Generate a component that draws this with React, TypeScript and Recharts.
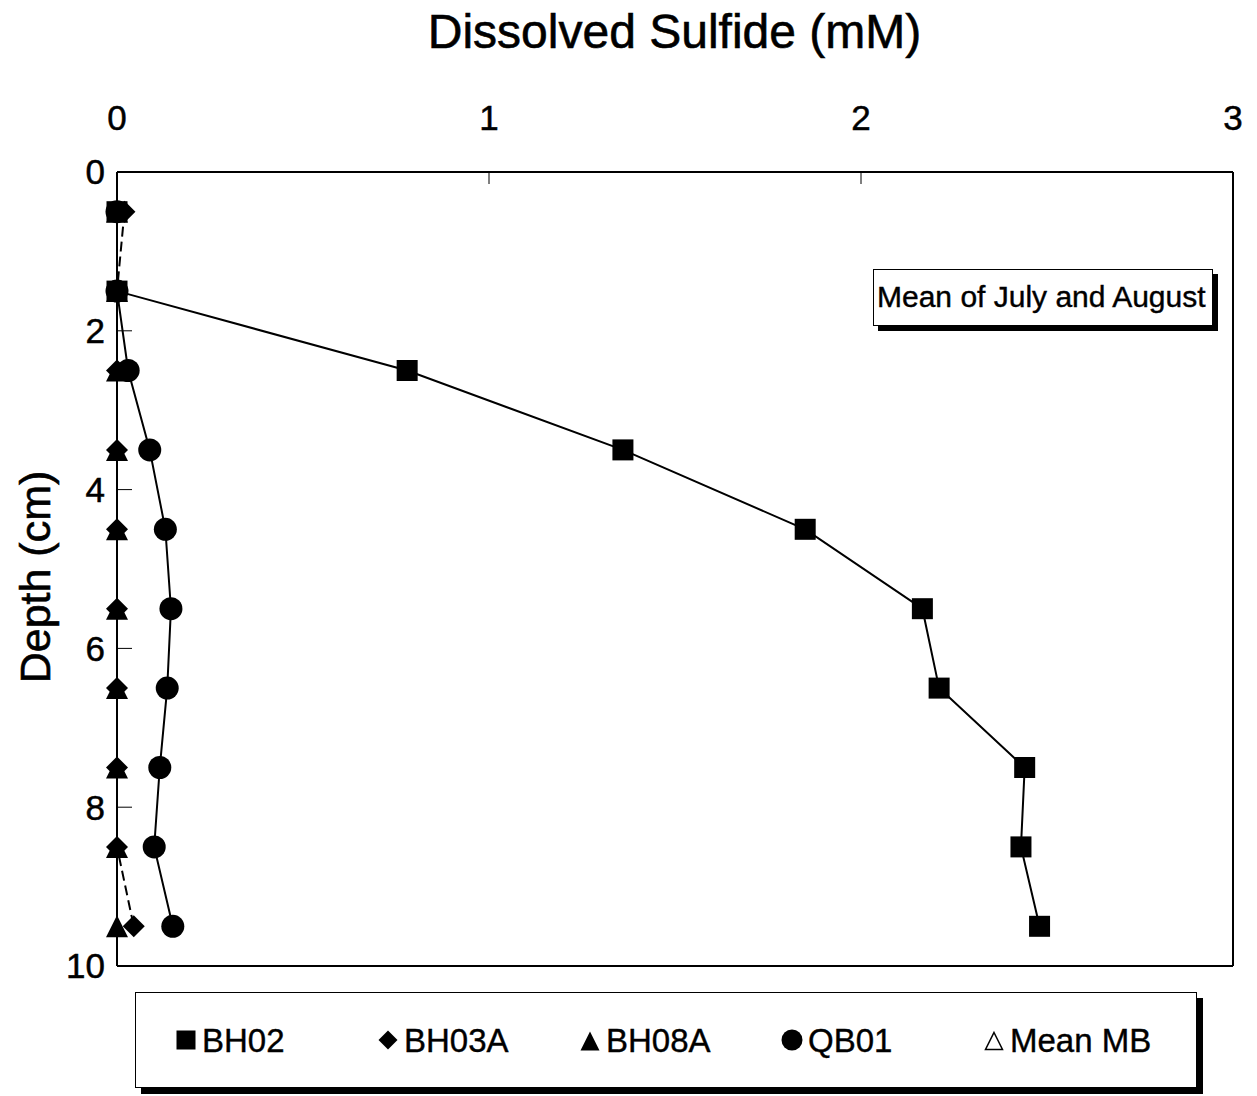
import { ScatterChart, Scatter, XAxis, YAxis, ReferenceLine } from "recharts"

const depths = [0.5, 1.5, 2.5, 3.5, 4.5, 5.5, 6.5, 7.5, 8.5, 9.5]
const bh02 = [0, 0, 0.78, 1.36, 1.85, 2.165, 2.21, 2.44, 2.43, 2.48]
const bh03a = [0.02, 0, 0, 0, 0, 0, 0, 0, 0, 0.045]
const bh08a = [0, 0, 0, 0, 0, 0, 0, 0, 0, 0]
const qb01 = [0, 0, 0.03, 0.088, 0.13, 0.145, 0.135, 0.115, 0.1, 0.15]
const meanMB: number[] = []

const xTicks = [0, 1, 2, 3]
const yTicks = [0, 2, 4, 6, 8, 10]

const toPoints = (vals: number[]) => vals.map((v, i) => ({ x: v, y: depths[i] }))

const FONT = '"Liberation Sans", Arial, Helvetica, sans-serif'

// marker shapes
const Square = ({ cx, cy, s = 21 }: any) => <rect x={cx - s / 2} y={cy - s / 2} width={s} height={s} fill="#000" />
const Diamond = ({ cx, cy, s = 22 }: any) => (
  <polygon points={`${cx},${cy - s / 2} ${cx + s / 2},${cy} ${cx},${cy + s / 2} ${cx - s / 2},${cy}`} fill="#000" />
)
const Triangle = ({ cx, cy, s = 22, open = false }: any) => (
  <polygon
    points={`${cx},${cy - s / 2} ${cx + s / 2},${cy + s / 2} ${cx - s / 2},${cy + s / 2}`}
    fill={open ? "#fff" : "#000"}
    stroke="#000"
    strokeWidth={open ? 1.5 : 0}
  />
)
const Circle = ({ cx, cy, s = 23 }: any) => <circle cx={cx} cy={cy} r={s / 2} fill="#000" />

const legendItems = [
  { name: "BH02", icon: (c: number) => <Square cx={c} cy={12} s={19} /> },
  { name: "BH03A", icon: (c: number) => <Diamond cx={c} cy={12} s={19} /> },
  { name: "BH08A", icon: (c: number) => <Triangle cx={c} cy={13} s={19} /> },
  { name: "QB01", icon: (c: number) => <Circle cx={c} cy={12} s={21} /> },
  { name: "Mean MB", icon: (c: number) => <Triangle cx={c} cy={13} s={17} open /> },
]

const tickStyle = { fill: "#000", fontSize: 35, fontFamily: FONT, stroke: "#000", strokeWidth: 0.5 }

export default function App() {
  return (
    <div style={{ position: "absolute", left: 0, top: 0, width: 1257, height: 1096, background: "#fff", fontFamily: FONT }}>
      <div
        style={{
          position: "absolute",
          left: 0,
          width: 1257,
          top: 4,
          textAlign: "center",
          fontSize: 48,
          color: "#000",
          paddingLeft: 92,
          boxSizing: "border-box",
          WebkitTextStroke: "0.6px #000",
        }}
      >
        Dissolved Sulfide (mM)
      </div>
      <div
        style={{
          position: "absolute",
          left: 35,
          top: 577,
          transform: "translate(-50%, -50%) rotate(-90deg)",
          fontSize: 43,
          whiteSpace: "nowrap",
          color: "#000",
          WebkitTextStroke: "0.6px #000",
        }}
      >
        Depth (cm)
      </div>

      <ScatterChart width={1257} height={1096} margin={{ top: 112, left: 57, right: 24, bottom: 130 }}>
        <XAxis
          type="number"
          dataKey="x"
          orientation="top"
          domain={[0, 3]}
          ticks={xTicks}
          height={60}
          tickSize={-12}
          tickMargin={54}
          axisLine={{ stroke: "#000", strokeWidth: 2 }}
          tickLine={{ stroke: "#000", strokeWidth: 1 }}
          tick={tickStyle}
        />
        <YAxis
          type="number"
          dataKey="y"
          reversed
          domain={[0, 10]}
          ticks={yTicks}
          width={60}
          tickSize={-15}
          tickMargin={27}
          axisLine={{ stroke: "#000", strokeWidth: 2 }}
          tickLine={{ stroke: "#000", strokeWidth: 1 }}
          tick={tickStyle}
        />
        <ReferenceLine x={3} stroke="#000" strokeWidth={2} />
        <ReferenceLine y={10} stroke="#000" strokeWidth={2} />

        <Scatter name="BH03A" data={toPoints(bh03a)} fill="#000" line={{ strokeWidth: 2, strokeDasharray: "10 5" }} shape={(p: any) => <Diamond cx={p.cx} cy={p.cy} />} isAnimationActive={false} />
        <Scatter name="BH08A" data={toPoints(bh08a)} fill="#000" line={{ strokeWidth: 2 }} shape={(p: any) => <Triangle cx={p.cx} cy={p.cy} />} isAnimationActive={false} />
        <Scatter name="QB01" data={toPoints(qb01)} fill="#000" line={{ strokeWidth: 2 }} shape={(p: any) => <Circle cx={p.cx} cy={p.cy} />} isAnimationActive={false} />
        <Scatter name="Mean MB" data={toPoints(meanMB)} fill="#000" line={{ strokeWidth: 1 }} shape={(p: any) => <Triangle cx={p.cx} cy={p.cy} open />} isAnimationActive={false} />
        <Scatter name="BH02" data={toPoints(bh02)} fill="#000" line={{ strokeWidth: 2 }} shape={(p: any) => <Square cx={p.cx} cy={p.cy} />} isAnimationActive={false} />
      </ScatterChart>

      <div
        style={{
          position: "absolute",
          left: 873,
          top: 269,
          width: 340,
          height: 57,
          border: "1.5px solid #000",
          boxShadow: "5px 5px 0 #000",
          background: "#fff",
          boxSizing: "border-box",
          fontSize: 30,
          lineHeight: "54px",
          paddingLeft: 3,
          whiteSpace: "nowrap",
          color: "#000",
          WebkitTextStroke: "0.4px #000",
        }}
      >
        Mean of July and August
      </div>

      <div
        style={{
          position: "absolute",
          left: 135,
          top: 992,
          width: 1062,
          height: 96,
          border: "1.5px solid #000",
          boxShadow: "6px 6px 0 #000",
          background: "#fff",
          boxSizing: "border-box",
        }}
      >
        {legendItems.map((it, i) => (
          <div key={it.name} style={{ position: "absolute", left: 38 + i * 202, top: 31, height: 34, display: "flex", alignItems: "center" }}>
            <svg width={24} height={26} style={{ marginRight: 4 }}>
              {it.icon(12)}
            </svg>
            <span style={{ fontSize: 33, color: "#000", whiteSpace: "nowrap", WebkitTextStroke: "0.4px #000" }}>{it.name}</span>
          </div>
        ))}
      </div>
    </div>
  )
}
